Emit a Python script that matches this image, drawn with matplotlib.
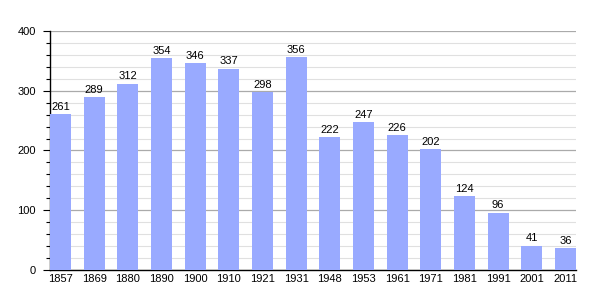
import matplotlib.pyplot as plt
import numpy as np

years = ['1857', '1869', '1880', '1890', '1900', '1910', '1921', '1931',
         '1948', '1953', '1961', '1971', '1981', '1991', '2001', '2011']
population = [261, 289, 312, 354, 346, 337, 298, 356,
              222, 247, 226, 202, 124, 96, 41, 36]

fig = plt.figure(figsize=(6.05, 3.0), dpi=100)
ax = fig.add_axes([0.0826, 0.1, 0.8694, 0.7967])

x = np.arange(len(years))
w = 0.62
ax.bar(x, population, width=w, color='#99aaff', zorder=3)

# value labels above bars
for xi, v in zip(x, population):
    ax.text(xi, v + 4, str(v), ha='center', va='bottom', fontsize=8,
            family='Liberation Sans', zorder=4)

ax.set_xlim(-w / 2, len(years) - 1 + w / 2)
ax.set_ylim(0, 400)
ax.set_xticks(x)
ax.set_xticklabels(years, fontsize=8, family='Liberation Sans')
ax.set_yticks(np.arange(0, 401, 100))
ax.set_yticks(np.arange(0, 401, 20), minor=True)
ax.set_yticklabels([str(v) for v in range(0, 401, 100)], fontsize=8,
                   family='Liberation Sans')

ax.grid(axis='y', which='major', color='#aaaaaa', lw=0.9, zorder=1)
ax.grid(axis='y', which='minor', color='#e0e0e0', lw=0.8, zorder=0)

ax.tick_params(axis='x', length=0, pad=3)
ax.tick_params(axis='y', which='major', length=5, width=0.8, pad=5)
ax.tick_params(axis='y', which='minor', length=3, width=0.8)

for s in ['top', 'right']:
    ax.spines[s].set_visible(False)
ax.spines['left'].set_linewidth(1)
ax.spines['bottom'].set_linewidth(1)

fig.savefig('out.png', dpi=100)
